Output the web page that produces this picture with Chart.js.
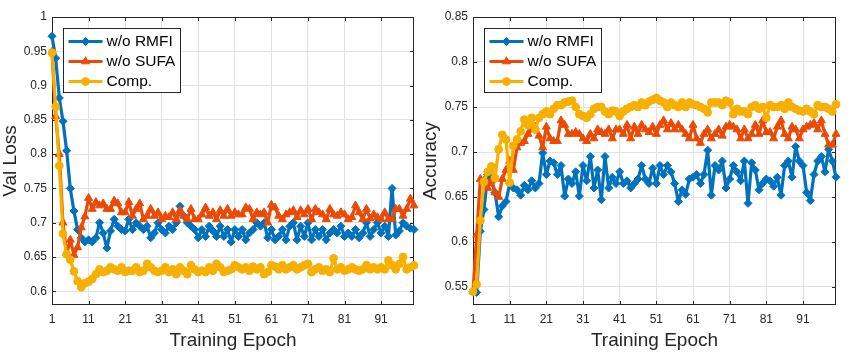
<!DOCTYPE html>
<html><head><meta charset="utf-8">
<script src="https://cdn.jsdelivr.net/npm/chart.js@4/dist/chart.umd.min.js"></script>
<style>
html,body{margin:0;padding:0;background:#fff;width:858px;height:358px;overflow:hidden}
#c1{position:absolute;left:0;top:0}
#c2{position:absolute;left:420px;top:0}
</style></head><body>
<canvas id="c1" width="420" height="358"></canvas>
<canvas id="c2" width="438" height="358"></canvas>
<script>
// ---------- data ----------
const epochs = Array.from({length:100},(_,i)=>i+1);
const seriesNames = ['w/o RMFI','w/o SUFA','Comp.'];
const xTicks = [1,11,21,31,41,51,61,71,81,91];
const lossTicks = [0.6,0.65,0.7,0.75,0.8,0.85,0.9,0.95,1];
const accTicks = [0.55,0.6,0.65,0.7,0.75,0.8,0.85];

const lossRMFI = [
 0.972,0.940,0.882,0.848,0.805,0.750,0.717,0.690,0.678,0.672,
 0.675,0.672,0.678,0.700,0.685,0.663,0.688,0.705,0.695,0.690,
 0.688,0.705,0.690,0.700,0.695,0.690,0.695,0.678,0.685,0.700,
 0.690,0.685,0.695,0.690,0.700,0.724,0.710,0.700,0.695,0.690,
 0.678,0.690,0.680,0.695,0.688,0.680,0.695,0.680,0.690,0.672,
 0.690,0.680,0.690,0.675,0.685,0.690,0.700,0.695,0.700,0.678,
 0.690,0.675,0.680,0.690,0.675,0.695,0.700,0.675,0.695,0.680,
 0.700,0.675,0.690,0.680,0.690,0.675,0.685,0.690,0.685,0.695,
 0.680,0.685,0.680,0.690,0.678,0.685,0.700,0.680,0.690,0.700,
 0.685,0.695,0.680,0.750,0.682,0.688,0.700,0.695,0.692,0.690];
const lossSUFA = [
 0.949,0.855,0.800,0.700,0.655,0.675,0.653,0.664,0.693,0.709,
 0.736,0.720,0.730,0.725,0.728,0.720,0.720,0.732,0.728,0.715,
 0.715,0.730,0.710,0.720,0.728,0.705,0.710,0.720,0.710,0.715,
 0.705,0.710,0.708,0.715,0.705,0.718,0.710,0.705,0.720,0.705,
 0.705,0.712,0.722,0.710,0.715,0.705,0.718,0.710,0.720,0.710,
 0.715,0.712,0.712,0.722,0.720,0.705,0.715,0.712,0.715,0.700,
 0.726,0.722,0.710,0.705,0.712,0.715,0.718,0.708,0.718,0.712,
 0.720,0.705,0.720,0.715,0.712,0.705,0.720,0.712,0.710,0.715,
 0.712,0.705,0.708,0.725,0.715,0.705,0.720,0.706,0.712,0.708,
 0.705,0.715,0.705,0.705,0.720,0.720,0.710,0.720,0.735,0.725];
const lossComp = [
 0.948,0.869,0.783,0.684,0.654,0.646,0.629,0.615,0.606,0.612,
 0.614,0.618,0.625,0.632,0.628,0.630,0.635,0.632,0.630,0.635,
 0.628,0.630,0.630,0.635,0.628,0.630,0.640,0.635,0.630,0.628,
 0.630,0.635,0.628,0.632,0.625,0.635,0.630,0.625,0.638,0.632,
 0.628,0.630,0.628,0.635,0.630,0.640,0.635,0.628,0.630,0.632,
 0.638,0.635,0.632,0.635,0.630,0.636,0.632,0.635,0.625,0.628,
 0.638,0.636,0.632,0.638,0.632,0.635,0.638,0.632,0.635,0.638,
 0.640,0.628,0.632,0.635,0.630,0.632,0.628,0.648,0.632,0.635,
 0.630,0.632,0.635,0.632,0.630,0.632,0.638,0.632,0.635,0.632,
 0.635,0.632,0.645,0.638,0.632,0.640,0.650,0.632,0.635,0.638];

const accRMFI = [
 0.545,0.544,0.612,0.636,0.675,0.670,0.655,0.628,0.640,0.645,
 0.665,0.660,0.658,0.652,0.663,0.658,0.668,0.660,0.665,0.699,
 0.675,0.690,0.688,0.675,0.685,0.651,0.670,0.665,0.678,0.651,
 0.685,0.668,0.695,0.660,0.680,0.647,0.695,0.660,0.672,0.665,
 0.678,0.665,0.668,0.660,0.665,0.670,0.685,0.670,0.665,0.682,
 0.665,0.685,0.675,0.685,0.678,0.665,0.645,0.658,0.653,0.670,
 0.672,0.675,0.665,0.675,0.702,0.652,0.685,0.680,0.690,0.660,
 0.670,0.685,0.678,0.668,0.690,0.643,0.688,0.680,0.658,0.665,
 0.670,0.668,0.662,0.672,0.652,0.685,0.690,0.672,0.706,0.690,
 0.685,0.655,0.646,0.675,0.690,0.695,0.678,0.703,0.690,0.672];
const accSUFA = [
 0.545,0.608,0.670,0.668,0.660,0.668,0.655,0.650,0.670,0.680,
 0.690,0.680,0.705,0.710,0.712,0.720,0.725,0.728,0.718,0.705,
 0.728,0.715,0.712,0.712,0.735,0.730,0.720,0.720,0.722,0.720,
 0.715,0.712,0.720,0.715,0.725,0.722,0.720,0.725,0.715,0.725,
 0.725,0.720,0.730,0.715,0.728,0.720,0.730,0.725,0.722,0.728,
 0.720,0.730,0.735,0.725,0.732,0.725,0.730,0.725,0.720,0.715,
 0.730,0.715,0.710,0.720,0.725,0.715,0.720,0.725,0.718,0.728,
 0.730,0.728,0.725,0.715,0.725,0.715,0.720,0.730,0.720,0.735,
 0.722,0.722,0.715,0.728,0.735,0.720,0.715,0.728,0.725,0.715,
 0.725,0.728,0.730,0.732,0.725,0.735,0.720,0.708,0.708,0.720];
const accComp = [
 0.545,0.553,0.624,0.667,0.678,0.684,0.671,0.703,0.719,0.714,
 0.666,0.707,0.714,0.723,0.736,0.730,0.738,0.725,0.738,0.742,
 0.745,0.742,0.748,0.752,0.752,0.755,0.756,0.757,0.750,0.742,
 0.740,0.738,0.742,0.748,0.750,0.750,0.745,0.742,0.746,0.745,
 0.740,0.745,0.748,0.750,0.752,0.750,0.755,0.752,0.756,0.758,
 0.760,0.757,0.755,0.750,0.755,0.752,0.750,0.755,0.750,0.755,
 0.753,0.752,0.750,0.748,0.744,0.755,0.755,0.755,0.752,0.757,
 0.755,0.742,0.748,0.745,0.745,0.742,0.750,0.752,0.748,0.750,
 0.738,0.752,0.750,0.750,0.752,0.748,0.755,0.750,0.748,0.746,
 0.745,0.748,0.745,0.742,0.752,0.750,0.750,0.748,0.745,0.753];

// ---------- style ----------
const FONT = '"Liberation Sans", Arial, Helvetica, sans-serif';
const AXIS_COLOR = '#262626';
const GRID_COLOR = '#e2e2e2';
const COLORS = ['#0072BD','#EB4A05','#F7B000'];
const STYLES = ['rectRot','triangle','circle'];
const RADII = [4,4.6,3.9];

Chart.defaults.font.family = FONT;

const framePlugin = {
  id:'frame',
  beforeDatasetsDraw(chart){
    const {ctx, chartArea:a, scales} = chart;
    ctx.save();
    ctx.strokeStyle = AXIS_COLOR; ctx.lineWidth = 1;
    ctx.strokeRect(Math.round(a.left)+0.5, Math.round(a.top)+0.5,
                   Math.round(a.right-a.left)-1, Math.round(a.bottom-a.top)-1);
    const L = 4;
    ctx.beginPath();
    scales.x.ticks.forEach(t=>{
      const px = Math.round(scales.x.getPixelForValue(t.value))+0.5;
      ctx.moveTo(px,a.bottom); ctx.lineTo(px,a.bottom-L);
      ctx.moveTo(px,a.top); ctx.lineTo(px,a.top+L);
    });
    scales.y.ticks.forEach(t=>{
      const py = Math.round(scales.y.getPixelForValue(t.value))+0.5;
      ctx.moveTo(a.left,py); ctx.lineTo(a.left+L,py);
      ctx.moveTo(a.right,py); ctx.lineTo(a.right-L,py);
    });
    ctx.stroke();
    ctx.restore();
  }
};

const legendPlugin = {
  id:'boxLegend',
  afterDraw(chart){
    const {ctx, chartArea:a} = chart;
    const bx = Math.round(a.left + 11) + 0.5, by = 28.5, bw = 117, bh = 64;
    ctx.save();
    ctx.fillStyle = '#fff'; ctx.fillRect(bx,by,bw,bh);
    ctx.strokeStyle = '#262626'; ctx.lineWidth = 1; ctx.strokeRect(bx,by,bw,bh);
    chart.data.datasets.forEach((ds,i)=>{
      const y = by + 13 + i*20;
      ctx.strokeStyle = ds.borderColor; ctx.lineWidth = 3.2;
      ctx.beginPath(); ctx.moveTo(bx+5,y); ctx.lineTo(bx+39,y); ctx.stroke();
      ctx.fillStyle = ds.borderColor; ctx.strokeStyle = ds.borderColor; ctx.lineWidth = 1;
      Chart.helpers.drawPoint(ctx,{pointStyle:ds.pointStyle, radius:ds.pointRadius, rotation:0, borderWidth:1}, bx+22, y);
      ctx.fillStyle = '#000'; ctx.font = '15.5px ' + FONT;
      ctx.textBaseline = 'middle'; ctx.textAlign = 'left';
      ctx.fillText(ds.label, bx+43, y+0.5);
    });
    ctx.restore();
  }
};

function makeChart(id, series, yTicks, yMin, yMax, yTitle, leftW, padRight){
  const datasets = series.map((vals,i)=>({
    label: seriesNames[i], data: vals,
    borderColor: COLORS[i], backgroundColor: COLORS[i],
    pointStyle: STYLES[i], pointRadius: RADII[i],
    pointBackgroundColor: COLORS[i], pointBorderColor: COLORS[i], pointBorderWidth: 1,
    borderWidth: 3.2, borderJoinStyle: 'round', borderCapStyle: 'round',
    tension: 0, fill: false, clip: false, order: 2 - i
  }));
  return new Chart(document.getElementById(id), {
    type:'line',
    data:{ labels: epochs, datasets },
    options:{
      responsive:false, animation:false, devicePixelRatio:1,
      layout:{ padding:{ left:0, right:padRight, top:17, bottom:0 } },
      plugins:{ legend:{display:false}, tooltip:{enabled:false} },
      scales:{
        x:{
          type:'linear', min:1, max:100,
          afterBuildTicks: s => { s.ticks = xTicks.map(v=>({value:v})); },
          afterFit: s => { s.height = 53; },
          ticks:{ autoSkip:false, maxRotation:0, padding:7, color:AXIS_COLOR,
                  font:{size:12, family:FONT}, callback: v => String(v) },
          grid:{ color:GRID_COLOR, drawTicks:false, lineWidth:1 },
          border:{ display:false },
          title:{ display:true, text:'Training Epoch', color:AXIS_COLOR,
                  font:{size:19, lineHeight:1, family:FONT}, padding:{top:0, bottom:8} }
        },
        y:{
          type:'linear', min:yMin, max:yMax,
          afterBuildTicks: s => { s.ticks = yTicks.map(v=>({value:v})); },
          afterFit: s => { s.width = leftW; },
          ticks:{ padding:5, color:AXIS_COLOR, font:{size:12, family:FONT},
                  callback: v => String(v) },
          grid:{ color:GRID_COLOR, drawTicks:false, lineWidth:1 },
          border:{ display:false },
          title:{ display:true, text:yTitle, color:AXIS_COLOR,
                  font:{size:19, lineHeight:1, family:FONT}, padding:{top:1, bottom:0} }
        }
      }
    },
    plugins:[framePlugin, legendPlugin]
  });
}

makeChart('c1', [lossRMFI, lossSUFA, lossComp], lossTicks, 0.58, 1, 'Val Loss', 52, 6);
makeChart('c2', [accRMFI, accSUFA, accComp], accTicks, 0.53, 0.85, 'Accuracy', 53, 22);
</script>
</body></html>
